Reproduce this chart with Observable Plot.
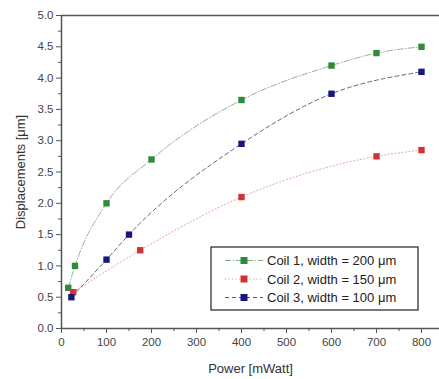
<!DOCTYPE html>
<html><head><meta charset="utf-8">
<script src="https://cdn.jsdelivr.net/npm/d3@7"></script>
<script src="https://cdn.jsdelivr.net/npm/@observablehq/plot@0.6"></script>
<style>
body{margin:0;background:#fff;}
#wrap{position:relative;width:439px;height:379px;font-family:"Liberation Sans",Arial,sans-serif;}
</style></head><body><div id="wrap"></div>
<script>
const coil1X = [15, 30, 100, 200, 400, 600, 700, 800];
const coil1Y = [0.65, 1.0, 2.0, 2.7, 3.65, 4.2, 4.4, 4.5];
const coil2X = [26, 175, 400, 700, 800];
const coil2Y = [0.58, 1.25, 2.1, 2.75, 2.85];
const coil3X = [22, 100, 150, 400, 600, 800];
const coil3Y = [0.5, 1.1, 1.5, 2.95, 3.75, 4.1];
const seriesNames = ["Coil 1, width = 200 \u03bcm", "Coil 2, width = 150 \u03bcm", "Coil 3, width = 100 \u03bcm"];
const xTicks = [0, 100, 200, 300, 400, 500, 600, 700, 800];
const yTicks = [0, 0.5, 1.0, 1.5, 2.0, 2.5, 3.0, 3.5, 4.0, 4.5, 5.0];

const styles = [
  {fill: "#2f8a3a", line: "#88aa8a", dash: "6,2,1,2", w: 0.9},
  {fill: "#d13232", line: "#e39090", dash: "1,2.5", w: 0.9},
  {fill: "#16167e", line: "#55556e", dash: "4,3", w: 0.9}
];
const toRows = (xs, ys, s) => xs.map((x, i) => ({x, y: ys[i], s}));
const data = [toRows(coil1X, coil1Y, 0), toRows(coil2X, coil2Y, 1), toRows(coil3X, coil3Y, 2)];

const chart = Plot.plot({
  width: 439, height: 379,
  marginLeft: 61, marginTop: 15, marginBottom: 51, marginRight: 0,
  style: {fontFamily: "Liberation Sans, Arial, sans-serif", fontSize: "11px", color: "#333", background: "#fff"},
  x: {domain: [0, 840]},
  y: {domain: [0, 5]},
  marks: [
    ...data.map((d, i) => Plot.line(d, {x: "x", y: "y", curve: "monotone-x", stroke: styles[i].line, strokeWidth: styles[i].w, strokeDasharray: styles[i].dash})),
    ...data.map((d, i) => Plot.dot(d, {x: "x", y: "y", symbol: "square", r: 3.6, fill: styles[i].fill, stroke: "none"})),
    Plot.ruleY([5], {stroke: "#555", strokeWidth: 1.5}),
    Plot.ruleY([0], {stroke: "#555", strokeWidth: 1.5}),
    Plot.ruleX([0], {stroke: "#555", strokeWidth: 1.5}),
    Plot.axisX(d3.range(50, 840, 100), {tickSize: 3, text: null, stroke: "#555", label: null}),
    Plot.axisX(xTicks, {tickSize: 5, tickPadding: 4, stroke: "#555", fill: "#444", fontSize: 11.5, label: null}),
    Plot.axisX({ticks: [], label: "Power [mWatt]", labelAnchor: "center", labelArrow: "none", labelOffset: 44, fontSize: 13, fill: "#333"}),
    Plot.axisY(d3.range(0.25, 5, 0.5), {tickSize: 3, text: null, stroke: "#555", label: null}),
    Plot.axisY(yTicks, {tickSize: 5, tickPadding: 3, stroke: "#555", fill: "#444", fontSize: 11.5, tickFormat: d3.format(".1f"), label: null}),
    Plot.axisY({ticks: [], label: "Displacements [\u03bcm]", labelAnchor: "center", labelArrow: "none", labelOffset: 46, fontSize: 13, fill: "#333"})
  ]
});
const wrap = document.getElementById("wrap");
wrap.appendChild(chart);

// legend overlay
const leg = d3.select(wrap).append("svg")
  .attr("width", 210).attr("height", 66)
  .style("position", "absolute").style("left", "210px").style("top", "246px");
leg.append("rect").attr("x", 1).attr("y", 1).attr("width", 207).attr("height", 63)
  .attr("fill", "#fff").attr("stroke", "#222").attr("stroke-width", 1.2);
seriesNames.forEach((name, i) => {
  const cy = 14.5 + i * 18.5;
  leg.append("line").attr("x1", 15).attr("x2", 53).attr("y1", cy).attr("y2", cy)
    .attr("stroke", styles[i].line).attr("stroke-dasharray", styles[i].dash).attr("stroke-width", 1);
  leg.append("rect").attr("x", 30.5).attr("y", cy - 3.5).attr("width", 7).attr("height", 7).attr("fill", styles[i].fill);
  leg.append("text").attr("x", 57).attr("y", cy).attr("dy", "0.36em")
    .attr("font-family", "Liberation Sans, Arial, sans-serif").attr("font-size", "13px").attr("fill", "#222")
    .text(name);
});
</script></body></html>
